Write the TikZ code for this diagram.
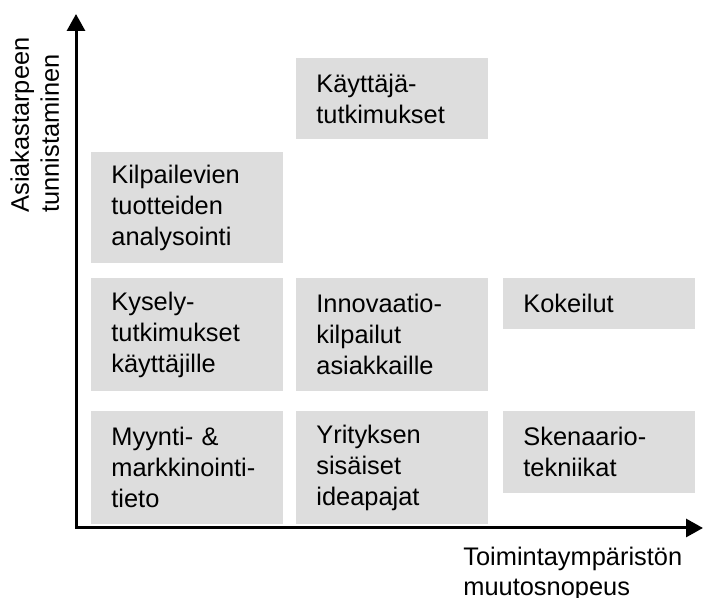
\documentclass[tikz,border=0pt]{standalone}
\usepackage{fontspec}
\setmainfont{Liberation Sans}
\usepackage{xcolor}
\usetikzlibrary{arrows.meta}
\definecolor{cellgray}{RGB}{221,221,221}

\begin{document}
\begin{tikzpicture}[x=0.5pt,y=-0.5pt,>={Triangle[length=8.5pt,width=9pt]},
                    cell/.style={rectangle,fill=cellgray,anchor=north west,inner xsep=10pt,inner ysep=0pt,
                                 minimum width=96pt,text width=76pt,align=left,
                                 font=\fontsize{12.7}{15.5}\selectfont},
                    axis label/.style={inner sep=0pt,align=left,font=\fontsize{12.7}{15}\selectfont}]
  \useasboundingbox (0,0) rectangle (703,598);

  % boxes
  \node[cell,minimum height=40.5pt] (kaytt) at (296,58) {K\"ayttäjä-\\tutkimukset};
  \node[cell,minimum height=55.5pt] (kilp) at (91,152) {Kilpailevien\\tuotteiden\\analysointi};
  \node[cell,minimum height=56.5pt] (kysely) at (91,278) {Kysely-\\tutkimukset\\käyttäjille};
  \node[cell,minimum height=56.5pt] (innov) at (296,278) {Innovaatio-\\kilpailut\\asiakkaille};
  \node[cell,minimum height=25.5pt] (kokeil) at (503,278) {Kokeilut};
  \node[cell,minimum height=56.5pt] (myynti) at (91,411) {Myynti- \&\\markkinointi-\\tieto};
  \node[cell,minimum height=56.5pt] (yritys) at (296,411) {Yrityksen\\sisäiset\\ideapajat};
  \node[cell,minimum height=41pt] (skenaario) at (503,411) {Skenaario-\\tekniikat};

  % axes
  \coordinate (origin) at (76,528);
  \coordinate (ytop) at (76,14);
  \coordinate (xend) at (703,528);
  \draw[line width=1.5pt,<->] (ytop) -- (origin) -- (xend);

  \node[axis label,rotate=90,anchor=north west] (ylabel) at (10,213) {Asiakastarpeen\\tunnistaminen};
  \node[axis label,anchor=north west] (xlabel) at (463,547) {Toimintaympäristön\\muutosnopeus};
\end{tikzpicture}
\end{document}
